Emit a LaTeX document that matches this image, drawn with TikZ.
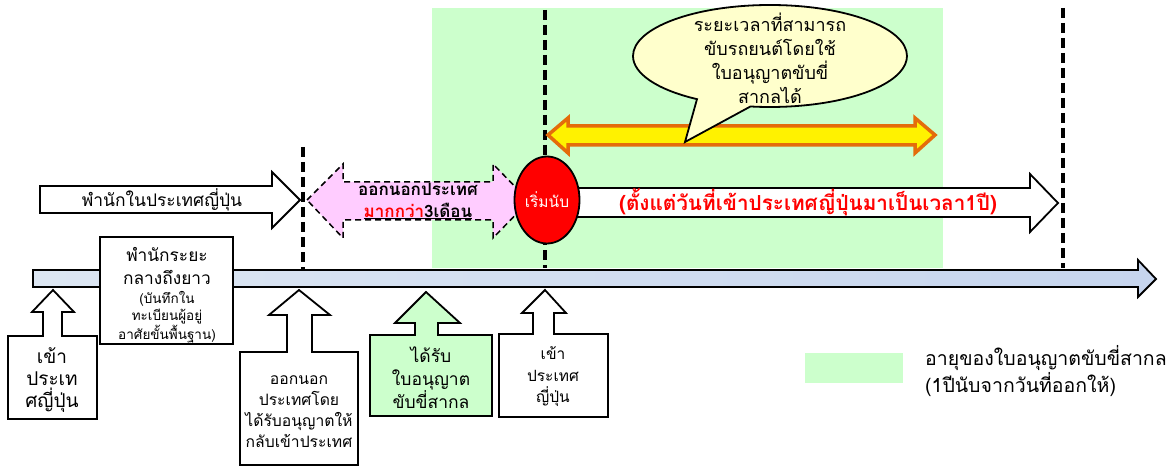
\documentclass[tikz,border=0pt]{standalone}
\usepackage{fontspec}
\newfontfamily\thaifont[Script=Thai]{Loma}
\usetikzlibrary{shapes.geometric,shapes.callouts}

\definecolor{licgreen}{HTML}{CCFFCC}
\definecolor{outpink}{HTML}{FFCCFF}
\definecolor{bubyellow}{HTML}{FFFFCC}
\definecolor{arrorange}{HTML}{E46C0A}
\definecolor{lineblue}{HTML}{C6D5EE}
\definecolor{lineleft}{HTML}{DCE6F2}
\definecolor{linegrey}{HTML}{D9D9D9}

\newcommand{\thsize}[2]{\thaifont\fontsize{#1}{#2}\selectfont}

\tikzset{
  outline/.style={draw=black, line width=1.8pt, fill=white, line join=miter},
  vline/.style={line width=3.2pt, dash pattern=on 10pt off 5pt},
  lbl/.style={align=center, inner sep=0pt, font=\thsize{17.4}{22.5}},
}

\begin{document}
\begin{tikzpicture}[x=1pt, y=-1pt, font=\thaifont]
  \useasboundingbox (0,0) rectangle (1171,468);
  % licence period
  \fill[licgreen] (432,8) rectangle (943,268);
  % time marks
  \draw[vline] (303,147)--(303,270);
  \draw[vline] (545,10)--(545,268);
  \draw[vline] (1063,8)--(1063,268);
  % time line
  \shade[left color=lineleft, middle color=linegrey, right color=lineblue, draw=black, line width=1.8pt]
    (33,270)--(1138,270)--(1138,260)--(1156,279)--(1138,297)--(1138,287)--(33,287)--cycle;
  % stay in Japan
  \draw[outline] (40,186)--(272,186)--(272,172)--(300,200)--(272,228)--(272,213)--(40,213)--cycle;
  \node[lbl] (stay) at (162,200) {พำนักในประเทศญี่ปุ่น};
  % leave the country
  \draw[fill=outpink, line width=1.5pt, dash pattern=on 6pt off 4pt]
    (307,200)--(343,164)--(343,182)--(493,182)--(493,164)--(529,201)--(493,238)--(493,220)--(343,220)--(343,238)--cycle;
  \node[align=center, inner sep=0pt, font=\thsize{17}{22}\bfseries] (away) at (418,201)
    {ออกนอกประเทศ\\\underline{\textcolor{red}{มากกว่า}3เดือน}};
  % one year
  \draw[outline] (560,188)--(1030,188)--(1030,174)--(1058,203)--(1030,232)--(1030,217)--(560,217)--cycle;
  \node[inner sep=0pt, text=red, font=\thsize{20.7}{22}\bfseries] (year) at (808,202)
    {(ตั้งแต่วันที่เข้าประเทศญี่ปุ่นมาเป็นเวลา1ปี)};
  \node[ellipse, draw=black, line width=1.8pt, fill=red, minimum width=65pt, minimum height=87pt, inner sep=0pt,
    text=white, font=\thsize{15.5}{16}] (start) at (547,200) {เริ่มนับ};
  % driving period
  \draw[draw=arrorange, fill=yellow, line width=3.5pt, line join=miter]
    (548,135)--(568,118)--(568,126)--(915,126)--(915,118)--(935,135)--(915,153)--(915,145)--(568,145)--(568,153)--cycle;
  \node[ellipse callout, draw=black, line width=1.8pt, fill=bubyellow, minimum width=274pt, minimum height=102pt,
    inner sep=0pt, callout absolute pointer={(685,142)}, callout pointer arc=24] (bub) at (770,56) {};
  \node[align=center, inner sep=0pt, font=\thsize{18}{24}] (drive) at (770,58)
    {ระยะเวลาที่สามารถ\\ขับรถยนต์โดยใช้\\ใบอนุญาตขับขี่\\สากลได้};
  % residence record
  \draw[outline] (100,237) rectangle (233,344);
  \node[lbl, font=\thsize{17.3}{23}] (mid) at (167,266) {พำนักระยะ\\กลางถึงยาว};
  \node[align=center, inner sep=0pt, font=\thsize{13.5}{17}] (rec) at (167,317)
    {(บันทึกใน\\ทะเบียนผู้อยู่\\อาศัยขั้นพื้นฐาน)};
  % events
  \draw[outline] (53,290)--(74,312)--(62,312)--(62,336)--(97,336)--(97,419)--(8,419)--(8,336)--(43,336)--(43,312)--(32,312)--cycle;
  \node[lbl, font=\thsize{19}{22}] (in1) at (52,380) {เข้า\\ประเท\\ศญี่ปุ่น};
  \draw[outline] (299,290)--(330,315)--(312,315)--(312,352)--(358,352)--(358,465)--(240,465)--(240,352)--(287,352)--(287,315)--(269,315)--cycle;
  \node[lbl, font=\thsize{15.7}{21}] (out) at (299,412) {ออกนอก\\ประเทศโดย\\ได้รับอนุญาตให้\\กลับเข้าประเทศ};
  \draw[outline, fill=licgreen] (426,292)--(460,323)--(438,323)--(438,335)--(492,335)--(492,416)--(370,416)--(370,335)--(415,335)--(415,323)--(395,323)--cycle;
  \node[lbl, font=\thsize{17.5}{22.5}] (get) at (431,378) {ได้รับ\\ใบอนุญาต\\ขับขี่สากล};
  \draw[outline] (545,290)--(566,313)--(554,313)--(554,334)--(608,334)--(608,417)--(499,417)--(499,334)--(533,334)--(533,313)--(522,313)--cycle;
  \node[lbl, font=\thsize{15.5}{21.5}] (in2) at (553,377) {เข้า\\ประเทศ\\ญี่ปุ่น};
  % legend
  \fill[licgreen] (805,353) rectangle (903,383);
  \node[align=left, anchor=west, inner sep=0pt, font=\thsize{19.5}{19}] (key) at (925,371)
    {อายุของใบอนุญาตขับขี่สากล\\(1ปีนับจากวันที่ออกให้)};
\end{tikzpicture}
\end{document}
